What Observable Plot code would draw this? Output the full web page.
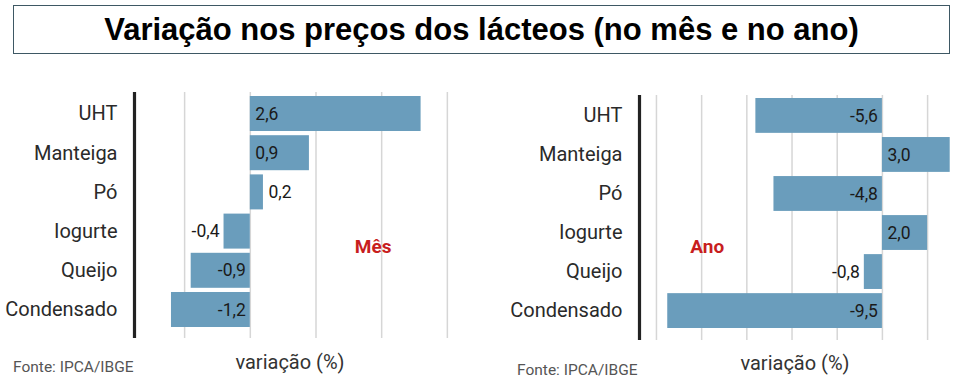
<!DOCTYPE html>
<html>
<head>
<meta charset="utf-8">
<script src="https://cdn.jsdelivr.net/npm/d3@7"></script>
<script src="https://cdn.jsdelivr.net/npm/@observablehq/plot@0.6"></script>
<style>
  html, body { margin: 0; padding: 0; background: #fff; }
  #page { position: relative; width: 962px; height: 381px; overflow: hidden; font-family: Roboto, "Noto Sans", sans-serif; }
  #title { position: absolute; left: 13px; top: 5px; width: 935px; height: 47px; border: 1.5px solid #3e5864;
           font-family: "Liberation Sans", Arial, sans-serif; font-weight: bold; font-size: 31px; color: #000;
           display: flex; align-items: center; justify-content: center; }
  .panel { position: absolute; top: 80px; }
  .xlabel { position: absolute; font-size: 20px; color: #333; transform: translate(-50%, -50%); white-space: nowrap; }
  .fonte { position: absolute; font-size: 15.5px; color: #555; transform: translateY(-50%); white-space: nowrap; }
</style>
</head>
<body>
<div id="page">
  <div id="title">Variação nos preços dos lácteos (no mês e no ano)</div>
  <div id="left" class="panel" style="left:0px"></div>
  <div id="right" class="panel" style="left:480px"></div>
  <div class="xlabel" style="left:290px; top:362px">variação (%)</div>
  <div class="xlabel" style="left:795px; top:363px">variação (%)</div>
  <div class="fonte" style="left:13px; top:367px">Fonte: IPCA/IBGE</div>
  <div class="fonte" style="left:517px; top:370px">Fonte: IPCA/IBGE</div>
</div>
<script>
const categorias = ["UHT", "Manteiga", "Pó", "Iogurte", "Queijo", "Condensado"];
const variacaoMes = [2.6, 0.9, 0.2, -0.4, -0.9, -1.2];
const variacaoAno = [-5.6, 3.0, -4.8, 2.0, -0.8, -9.5];
const ticksMes = [-1, 0, 1, 2, 3];
const ticksAno = [-10, -8, -6, -4, -2, 0, 2];
const rotuloMes = "Mês";
const rotuloAno = "Ano";

const fmt = v => v.toFixed(1).replace(".", ",");

function panel(o) {
  const data = categorias.map((c, i) => ({c, v: o.values[i]}));
  const inside = d => Math.abs(d.v) > o.threshold;
  const pos = data.filter(d => d.v >= 0);
  const neg = data.filter(d => d.v < 0);
  return Plot.plot({
    width: o.width,
    height: 300,
    marginLeft: o.marginLeft,
    marginRight: o.marginRight,
    marginTop: o.marginTop,
    marginBottom: o.marginBottom,
    style: {fontFamily: "Roboto, sans-serif", background: "transparent"},
    x: {domain: o.domain, axis: null},
    y: {domain: categorias, type: "band", paddingInner: 0.107, paddingOuter: 0, round: false,
        insetTop: o.insetTop, insetBottom: o.insetBottom, axis: null},
    marks: [
      Plot.gridX(o.ticks, {stroke: "#d6d6d6", strokeOpacity: 1, strokeWidth: 1.5}),
      Plot.barX(data, {x: "v", y: "c", fill: "#6a9dbc"}),
      Plot.ruleX([o.domain[0]], {stroke: "#222", strokeWidth: 3.2}),
      Plot.axisY({tickSize: 0, tickPadding: 17, fontSize: 20, fill: "#2a2a2a", label: null}),
      Plot.text(pos, {x: d => inside(d) ? 0 : d.v, y: "c", text: d => fmt(d.v), textAnchor: "start", dx: 5,
                      fontSize: 17.5, fill: "#1a1a1a"}),
      Plot.text(neg, {x: d => inside(d) ? 0 : d.v, y: "c", text: d => fmt(d.v), textAnchor: "end", dx: -4.5,
                      fontSize: 17.5, fill: "#1a1a1a"}),
      Plot.text([o.tag], {x: o.tagX, y: () => "Iogurte", text: d => d, dy: o.tagDy, fontSize: 19,
                          fontWeight: "bold", fill: "#c81e1e"})
    ]
  });
}

document.getElementById("left").append(panel({
  values: variacaoMes, ticks: ticksMes, domain: [-1.763, 3.2],
  width: 480, marginLeft: 134, marginRight: 20, marginTop: 12, marginBottom: 42,
  insetTop: 4, insetBottom: 11, threshold: 0.5, tag: rotuloMes, tagX: () => 1.87, tagDy: 15
}));

document.getElementById("right").append(panel({
  values: variacaoAno, ticks: ticksAno, domain: [-10.75, 3.5],
  width: 482, marginLeft: 159, marginRight: 1, marginTop: 15, marginBottom: 40,
  insetTop: 3, insetBottom: 12, threshold: 1.0, tag: rotuloAno, tagX: () => -7.75, tagDy: 13.5
}));
</script>
</body>
</html>
